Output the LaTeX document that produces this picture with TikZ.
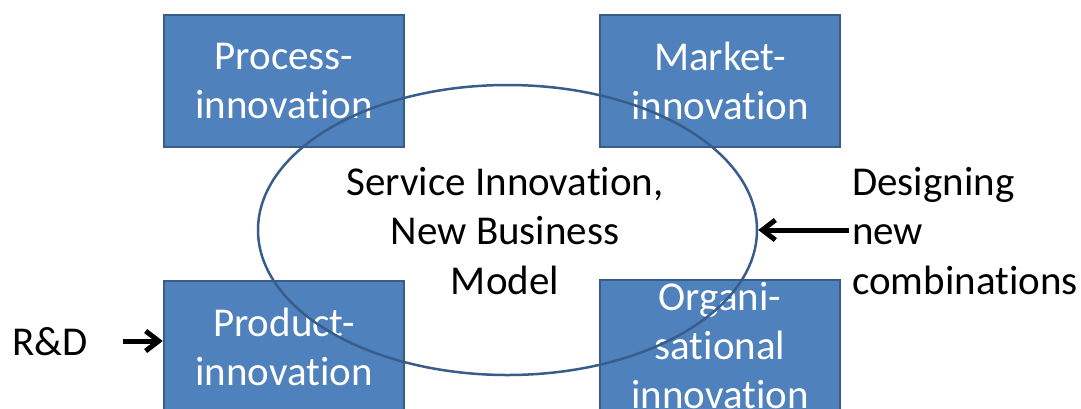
\documentclass[tikz,border=0pt]{standalone}
\usepackage{fontspec}
\setmainfont[Ligatures=NoCommon]{Carlito}
\usetikzlibrary{arrows.meta,shapes.geometric}
\definecolor{boxfill}{HTML}{4F81BD}
\definecolor{boxline}{HTML}{385D8A}
\begin{document}
\begin{tikzpicture}[x=1pt,y=-1pt,
  innobox/.style={draw=boxline, line width=2.5pt, fill=boxfill, minimum width=240pt,
    minimum height=132pt, text=white, align=center, inner sep=0pt,
    font=\fontsize{41}{49}\selectfont},
  plain/.style={font=\fontsize{41}{49.5}\selectfont, inner sep=0pt},
  feed/.style={line width=5pt, -{Straight Barb[length=13pt,width=20pt,line width=5pt]}}]
  \useasboundingbox (0,0) rectangle (1081,408);
  \begin{scope}
    \clip (0,0) rectangle (1081,408);
    \node[innobox] (proc) at (284,81) {Process-\\innovation};
    \node[innobox] (mark) at (720,81) {Market-\\innovation};
    \node[innobox] (prod) at (284,347) {Product-\\innovation};
    \node[innobox] (org) at (720,346) {Organi-\\sational\\innovation};
    \node[draw=boxline, line width=2.5pt, ellipse, minimum width=499pt, minimum height=290pt,
      inner sep=0pt] (core) at (507.5,230) {};
  \end{scope}
  \node[plain, align=center] (core text) at (505,231) {Service Innovation,\\New Business\\Model};
  \node[plain, align=left, anchor=west] (design) at (852,231) {Designing\\new\\combinations};
  \node[plain, anchor=west] (rd) at (12,342) {R\&D};
  \coordinate (designtail) at (849,230);
  \coordinate (rdtail) at (123,341);
  \draw[feed] (designtail) -- (core.east);
  \draw[feed] (rdtail) -- (prod.west |- rdtail);
\end{tikzpicture}
\end{document}
